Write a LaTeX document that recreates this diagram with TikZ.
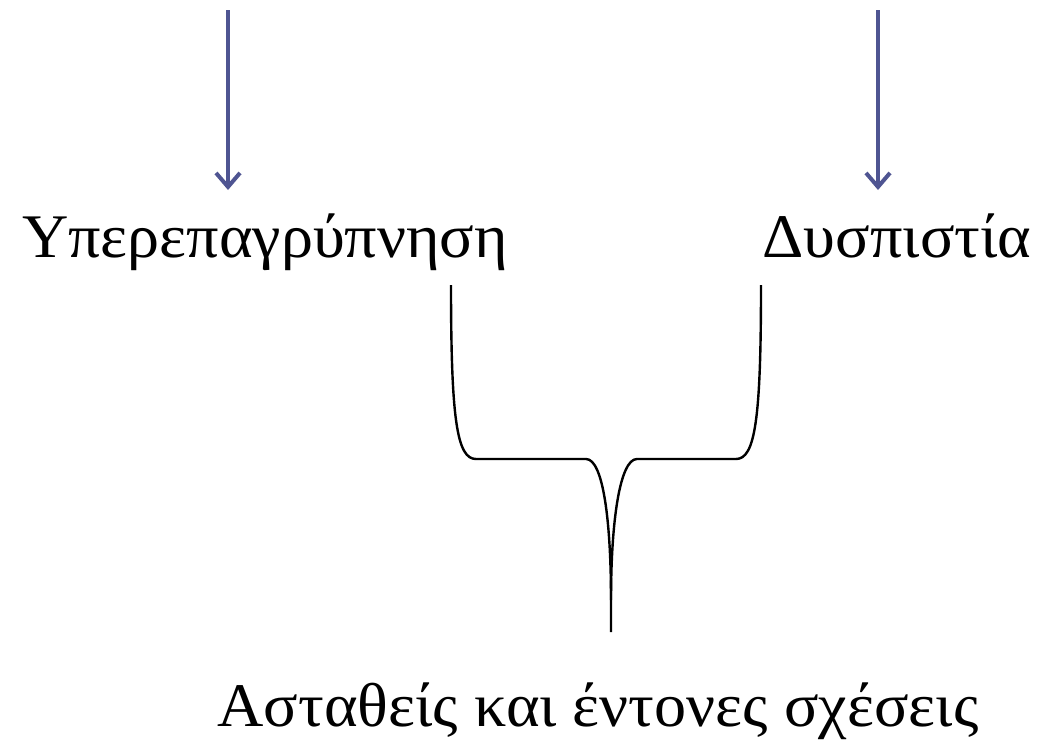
\documentclass[tikz,border=0pt]{standalone}
\usepackage{fontspec}
\setmainfont{Liberation Serif}
\usetikzlibrary{arrows.meta}
\definecolor{arrowblue}{HTML}{4F5592}
\begin{document}
\begin{tikzpicture}[x=1pt,y=-1pt,
  label text/.style={font=\fontsize{62}{70}\selectfont, inner sep=0pt, anchor=base, xscale=1.035},
  down arrow/.style={draw=arrowblue, line width=4pt, -{Straight Barb[length=14pt,width=24pt,line width=4pt]}},
  brace line/.style={draw=black, line width=2.4pt}]
\useasboundingbox (0,0) rectangle (1041,739);
\coordinate (a1s) at (228,10);
\coordinate (a1e) at (228,190);
\coordinate (a2s) at (878,10);
\coordinate (a2e) at (878,190);
\draw[down arrow] (a1s) -- (a1e);
\draw[down arrow] (a2s) -- (a2e);
\node[label text] (t1) at (265,257) {Υπερεπαγρύπνηση};
\node[label text] (t2) at (897,257) {Δυσπιστία};
\node[label text] (t3) at (598,726) {Ασταθείς και έντονες σχέσεις};
\coordinate (bl) at (451,285);
\coordinate (br) at (761,285);
\coordinate (tip) at (611,632);
\draw[brace line] (bl) .. controls (451,420) and (457,459) .. (476,459)
  -- (586,459) .. controls (603,459) and (611,520) .. (611,600) -- (tip);
\draw[brace line] (br) .. controls (761,420) and (755,459) .. (736,459)
  -- (637,459) .. controls (620,459) and (611,520) .. (611,600);
\end{tikzpicture}
\end{document}
